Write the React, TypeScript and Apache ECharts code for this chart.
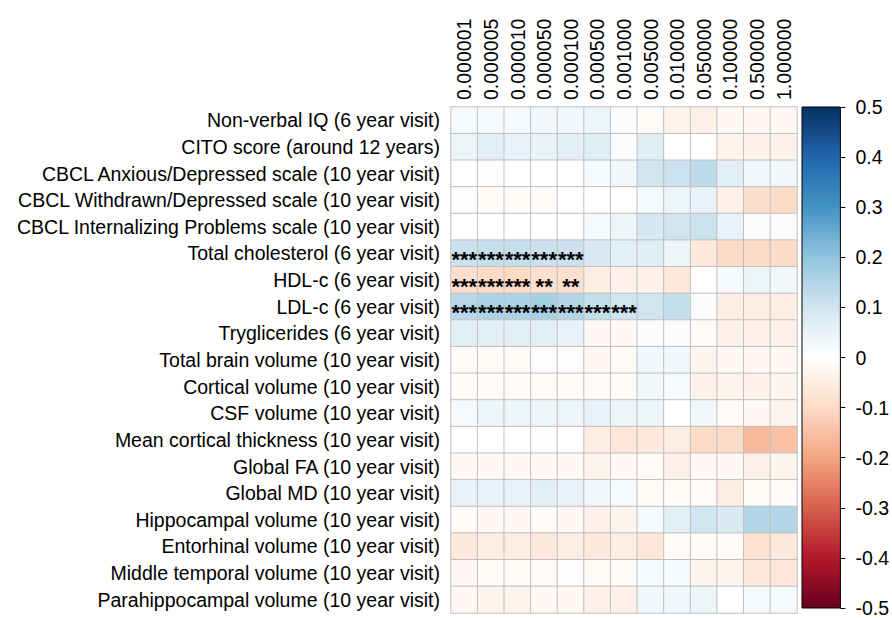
import React, { useEffect, useRef } from 'react';
import * as echarts from 'echarts';

const thresholds = [
  '0.000001', '0.000005', '0.000010', '0.000050', '0.000100', '0.000500', '0.001000',
  '0.005000', '0.010000', '0.050000', '0.100000', '0.500000', '1.000000',
];

const outcomes = [
  'Non-verbal IQ (6 year visit)',
  'CITO score (around 12 years)',
  'CBCL Anxious/Depressed scale (10 year visit)',
  'CBCL Withdrawn/Depressed scale (10 year visit)',
  'CBCL Internalizing Problems scale (10 year visit)',
  'Total cholesterol (6 year visit)',
  'HDL-c (6 year visit)',
  'LDL-c (6 year visit)',
  'Tryglicerides (6 year visit)',
  'Total brain volume (10 year visit)',
  'Cortical volume (10 year visit)',
  'CSF volume (10 year visit)',
  'Mean cortical thickness (10 year visit)',
  'Global FA (10 year visit)',
  'Global MD (10 year visit)',
  'Hippocampal volume (10 year visit)',
  'Entorhinal volume (10 year visit)',
  'Middle temporal volume (10 year visit)',
  'Parahippocampal volume (10 year visit)',
];

// correlation per outcome (row) and p-value threshold (column)
const correlations = [
  [0.02, 0.02, 0.02, 0.03, 0.03, 0.04, 0.01, -0.01, -0.03, -0.04, -0.02, -0.02, -0.02],
  [0.04, 0.06, 0.05, 0.05, 0.06, 0.07, 0.01, 0.07, 0.0, 0.0, -0.03, -0.04, -0.04],
  [0.0, -0.005, 0.0, 0.0, 0.0, 0.02, 0.03, 0.1, 0.11, 0.13, 0.06, 0.03, 0.03],
  [-0.005, -0.01, -0.01, -0.01, 0.0, 0.0, 0.0, 0.02, 0.04, 0.05, -0.04, -0.09, -0.1],
  [0.0, 0.0, 0.0, 0.0, 0.0, 0.02, 0.04, 0.09, 0.1, 0.11, 0.05, 0.01, 0.01],
  [0.11, 0.12, 0.12, 0.11, 0.11, 0.08, 0.06, 0.07, 0.04, -0.06, -0.1, -0.1, -0.1],
  [-0.09, -0.1, -0.1, -0.09, -0.09, -0.05, -0.04, -0.04, -0.06, 0.0, 0.02, 0.04, 0.03],
  [0.14, 0.16, 0.16, 0.17, 0.15, 0.12, 0.1, 0.1, 0.12, 0.01, -0.05, -0.05, -0.05],
  [0.06, 0.06, 0.06, 0.06, 0.05, -0.02, -0.02, 0.01, 0.01, -0.01, -0.04, -0.04, -0.04],
  [-0.01, -0.01, -0.01, -0.005, -0.005, -0.02, -0.01, 0.03, 0.03, -0.03, -0.02, -0.02, -0.02],
  [-0.01, -0.01, -0.01, -0.01, -0.01, -0.01, -0.01, 0.03, 0.02, -0.04, -0.03, -0.04, -0.03],
  [0.02, 0.04, 0.04, 0.04, 0.04, 0.05, 0.04, 0.04, 0.0, 0.03, -0.01, -0.02, -0.03],
  [0.0, 0.0, 0.0, 0.005, 0.0, -0.05, -0.07, -0.06, -0.05, -0.1, -0.1, -0.16, -0.15],
  [-0.02, -0.02, -0.02, -0.02, -0.02, -0.03, -0.02, -0.01, -0.04, -0.02, -0.02, -0.04, -0.03],
  [0.05, 0.05, 0.05, 0.06, 0.05, 0.03, 0.02, -0.01, -0.01, -0.01, -0.05, -0.01, -0.01],
  [-0.01, -0.02, -0.02, -0.01, -0.02, -0.04, -0.03, 0.02, 0.06, 0.1, 0.08, 0.15, 0.15],
  [-0.06, -0.05, -0.05, -0.06, -0.05, -0.06, -0.05, -0.07, -0.01, -0.01, -0.01, -0.08, -0.06],
  [-0.02, -0.01, -0.01, -0.01, -0.005, -0.01, -0.01, 0.02, 0.02, -0.03, -0.03, -0.06, -0.07],
  [-0.02, -0.03, -0.03, -0.02, -0.02, -0.04, -0.04, 0.03, 0.03, 0.04, 0.0, 0.02, 0.02],
];

// [row, column, stars]
const significance: [number, number, string][] = [
  [5, 0, '***'], [5, 1, '***'], [5, 2, '***'], [5, 3, '***'], [5, 4, '***'],
  [6, 0, '***'], [6, 1, '***'], [6, 2, '***'], [6, 3, '**'], [6, 4, '**'],
  [7, 0, '***'], [7, 1, '***'], [7, 2, '***'], [7, 3, '***'], [7, 4, '***'], [7, 5, '***'], [7, 6, '***'],
];

const rdbu = ['#67001F', '#B2182B', '#D6604D', '#F4A582', '#FDDBC7', '#FFFFFF', '#D1E5F0', '#92C5DE', '#4393C3', '#2166AC', '#053061'];

const FONT = 'Liberation Sans, Arial, sans-serif';

export default function App() {
  const ref = useRef<HTMLDivElement>(null);
  useEffect(() => {
    document.body.style.margin = '0';
    const chart = echarts.init(ref.current!, null, { renderer: 'svg' });
    const starMap = new Map<string, string>();
    significance.forEach(([r, c, s]) => starMap.set(`${r}-${c}`, s));
    const data: [number, number, number][] = [];
    correlations.forEach((row, r) => row.forEach((v, c) => data.push([c, r, v])));
    const stops = rdbu.map((_, i) => ({ offset: i / (rdbu.length - 1), color: rdbu[rdbu.length - 1 - i] }));

    chart.setOption({
      animation: false,
      backgroundColor: '#fff',
      grid: [
        { left: 451, top: 107, width: 346, height: 506 },
        { left: 802, top: 107, width: 40, height: 506 },
      ],
      xAxis: [
        {
          type: 'category', data: thresholds, position: 'top', gridIndex: 0,
          axisLine: { show: false }, axisTick: { show: false }, splitLine: { show: false },
          axisLabel: { rotate: -90, interval: 0, margin: 7, fontSize: 19.5, color: '#000', fontFamily: FONT },
        },
        { type: 'category', data: ['colorbar'], gridIndex: 1, show: false },
      ],
      yAxis: [
        {
          type: 'category', data: outcomes, inverse: true, gridIndex: 0,
          axisLine: { show: false }, axisTick: { show: false }, splitLine: { show: false },
          axisLabel: { interval: 0, margin: 11, fontSize: 19.5, color: '#000', fontFamily: FONT },
        },
        {
          type: 'value', gridIndex: 1, min: -0.5, max: 0.5, interval: 0.1, position: 'right',
          axisLine: { show: false }, splitLine: { show: false },
          axisTick: { show: true, length: 5, lineStyle: { color: '#000', width: 1 } },
          axisLabel: { margin: 15, fontSize: 19.5, color: '#000', fontFamily: FONT },
        },
      ],
      visualMap: {
        show: false, type: 'continuous', min: -0.5, max: 0.5, dimension: 2, seriesIndex: 0,
        inRange: { color: rdbu },
      },
      series: [
        {
          type: 'heatmap', xAxisIndex: 0, yAxisIndex: 0, data,
          itemStyle: { borderColor: '#C0C0C0', borderWidth: 1 },
          emphasis: { disabled: true },
          label: {
            show: true, color: '#000', fontSize: 22, fontWeight: 'bold', fontFamily: FONT,
            offset: [0, 6],
            formatter: (p: any) => starMap.get(`${p.value[1]}-${p.value[0]}`) || '',
          },
        },
        {
          type: 'custom', xAxisIndex: 1, yAxisIndex: 1, data: [[0, 0]], silent: true,
          renderItem: (params: any, api: any) => {
            const top = api.coord([0, 0.5]);
            const bottom = api.coord([0, -0.5]);
            const cs = params.coordSys;
            return {
              type: 'rect',
              shape: { x: cs.x, y: top[1], width: cs.width, height: bottom[1] - top[1] },
              style: { fill: new echarts.graphic.LinearGradient(0, 0, 0, 1, stops), stroke: '#000', lineWidth: 1 },
            };
          },
        },
      ],
    });
    return () => chart.dispose();
  }, []);
  return <div ref={ref} style={{ width: 892, height: 618 }} />;
}
